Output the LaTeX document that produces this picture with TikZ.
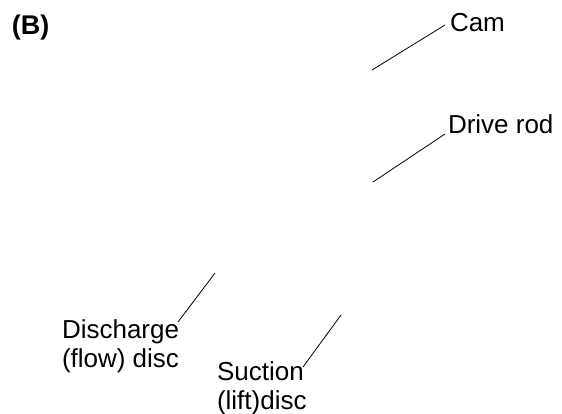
\documentclass[tikz,border=0pt]{standalone}
\usepackage{fontspec}
\setmainfont{Liberation Sans}
\begin{document}
\begin{tikzpicture}[x=1pt,y=-1pt,
  lbl/.style={inner sep=0pt, outer sep=0pt, align=left, anchor=base west,
    font=\fontsize{26}{29}\selectfont},
  panel/.style={inner sep=0pt, outer sep=0pt, anchor=base west,
    font=\fontsize{27}{30}\selectfont\bfseries},
  leader/.style={draw=black, line width=0.8pt}]
\useasboundingbox (0,0) rectangle (562,414);
\node[panel] (B) at (12,35) {(B)};
\node[lbl] (cam) at (450,32) {Cam};
\node[lbl] (rod) at (448,134) {Drive rod};
\node[lbl] (dis) at (62,367) {Discharge\\(flow) disc};
\node[lbl] (suc) at (217,409) {Suction\\(lift)disc};
\coordinate (camP) at (372,70);
\coordinate (rodP) at (373,182);
\coordinate (disP) at (215,273);
\coordinate (sucP) at (341,315);
\draw[leader] ([shift={(-5,-7)}]cam.base west) -- (camP);
\draw[leader] ([shift={(-3,0)}]rod.base west) -- (rodP);
\draw[leader] ([shift={(116,-45)}]dis.base west) -- (disP);
\draw[leader] ([shift={(86,-42)}]suc.base west) -- (sucP);
\end{tikzpicture}
\end{document}
